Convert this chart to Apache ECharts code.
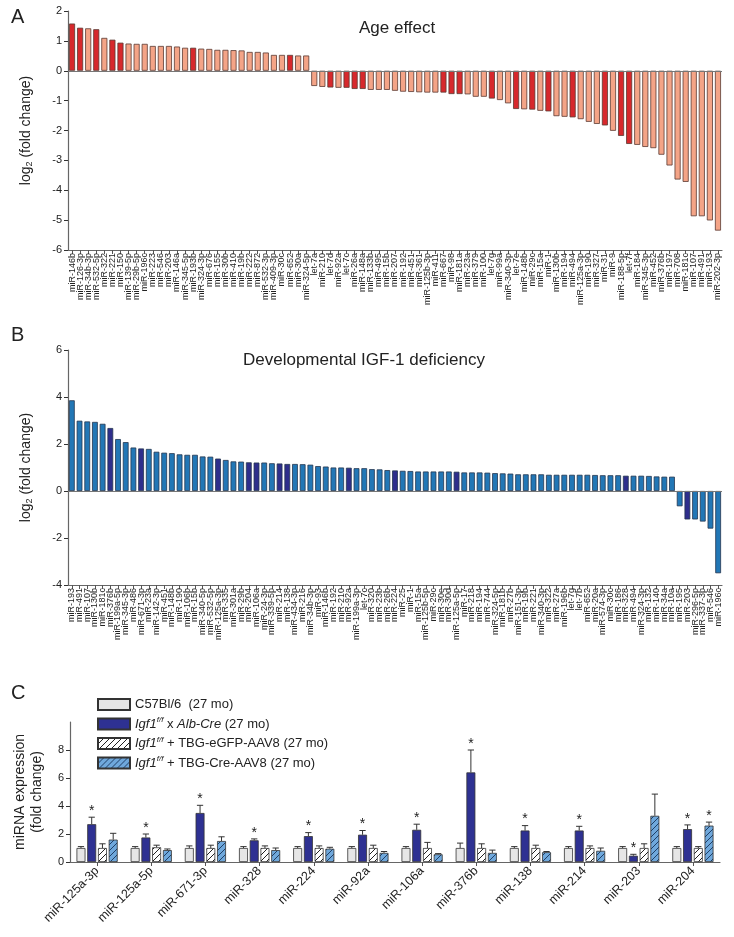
<!DOCTYPE html>
<html><head><meta charset="utf-8">
<script src="https://cdn.jsdelivr.net/npm/echarts@6/dist/echarts.min.js"></script>
<style>html,body{margin:0;padding:0;background:#fff}#c{width:734px;height:937px}</style>
</head><body><div id="c"></div>
<script>
// ---------- Panel A: Age effect ----------
const ageLabels = ['miR-146b','miR-126-3p','miR-34b-3p','miR-532-5p','miR-322','miR-221','miR-150','miR-139-5p','miR-29b-5p','miR-196c',
'miR-223','miR-546','miR-203','miR-146a','miR-345-5p','miR-193b','miR-324-3p','miR-676','miR-155','miR-30b',
'miR-410','miR-19b','miR-222','miR-872','miR-532-3p','miR-409-3p','miR-30c','miR-652','miR-30a','miR-324-5p',
'let-7a','miR-210','let-7d','miR-92a','let-7c','miR-26a','miR-148a','miR-133b','miR-495','miR-15b',
'miR-207','miR-192','miR-451','miR-361','miR-125b-3p','miR-411','miR-667','miR-98','miR-181a','miR-23a',
'miR-379','miR-100','let-7g','miR-99a','miR-340-3p','let-7e','miR-148b','miR-29c','miR-15a','miR-1',
'miR-130b','miR-194','miR-494','miR-125a-3p','miR-190','miR-327','miR-31','miR-9','miR-188-5p','let-7f',
'miR-184','miR-345-3p','miR-452','miR-376b','miR-197','miR-708','miR-181c','miR-107','miR-491','miR-193','miR-202-3p'];
const ageValues = [1.58,1.44,1.42,1.39,1.10,1.04,0.94,0.91,0.90,0.90,
0.83,0.83,0.83,0.81,0.77,0.77,0.74,0.73,0.70,0.70,
0.69,0.68,0.63,0.63,0.61,0.53,0.53,0.53,0.51,0.51,
-0.51,-0.54,-0.56,-0.57,-0.57,-0.61,-0.61,-0.64,-0.64,-0.64,
-0.67,-0.70,-0.71,-0.72,-0.73,-0.73,-0.73,-0.78,-0.78,-0.79,
-0.87,-0.87,-0.93,-0.98,-1.09,-1.28,-1.29,-1.30,-1.34,-1.36,
-1.52,-1.54,-1.56,-1.62,-1.71,-1.78,-1.83,-2.01,-2.18,-2.45,
-2.48,-2.55,-2.59,-2.81,-3.17,-3.64,-3.72,-4.87,-4.87,-5.01,-5.35];
const ageHighlight = ['miR-146b','miR-126-3p','miR-532-5p','miR-221','miR-150','miR-193b','miR-652','let-7d','let-7c','miR-26a',
'miR-148a','miR-667','miR-98','miR-181a','let-7g','let-7e','miR-29c','miR-1','miR-494','miR-31','miR-188-5p','let-7f'];
const ageTicks = [2,1,0,-1,-2,-3,-4,-5,-6];

// ---------- Panel B: Developmental IGF-1 deficiency ----------
const igfLabels = ['miR-193','miR-491','miR-107','miR-130b','miR-181c','miR-376b','miR-199a-5p','miR-345-3p','miR-486','miR-671-3p',
'miR-23a','miR-142-3p','miR-451','miR-148b','miR-190','miR-106b','miR-15b','miR-340-5p','miR-532-5p','miR-125a-3p',
'miR-335','miR-301a','miR-29b','miR-204','miR-106a','miR-24-3p','miR-339-5p','miR-214','miR-138','miR-434-3p',
'miR-216','miR-34b-3p','miR-93','miR-146b','miR-192','miR-210','miR-92a','miR-199a-3p','let-7c','miR-320',
'miR-23b','miR-26b','miR-224','miR-25','miR-1','miR-15a','miR-125b-5p','miR-29c','miR-30e','miR-30d',
'miR-125a-5p','miR-17','miR-218','miR-194','miR-744','miR-324-5p','miR-181b','miR-27b','miR-151-3p','miR-19b',
'miR-221','miR-340-3p','miR-322','miR-27a','miR-196b','let-7g','let-7b','miR-652','miR-20a','miR-574-3p',
'miR-30c','miR-186','miR-328','miR-494','miR-324-3p','miR-132','miR-140','miR-34a','miR-10a','miR-195',
'miR-203','miR-296-5p','miR-337-3p','miR-546','miR-196c'];
const igfValues = [3.86,2.99,2.96,2.94,2.86,2.68,2.21,2.08,1.85,1.81,
1.79,1.67,1.63,1.61,1.56,1.54,1.54,1.47,1.46,1.38,
1.32,1.26,1.25,1.22,1.21,1.21,1.18,1.17,1.15,1.15,
1.14,1.12,1.06,1.04,1.00,1.00,0.99,0.97,0.97,0.93,
0.92,0.89,0.875,0.86,0.85,0.83,0.83,0.83,0.83,0.83,
0.82,0.79,0.79,0.79,0.78,0.76,0.75,0.74,0.71,0.71,
0.71,0.71,0.69,0.69,0.69,0.69,0.69,0.69,0.68,0.67,
0.67,0.67,0.65,0.65,0.65,0.64,0.62,0.61,0.61,
-0.65,-1.21,-1.21,-1.30,-1.60,-3.50];
const igfHighlight = ['miR-376b','miR-671-3p','miR-125a-3p','miR-204','miR-106a','miR-214','miR-138','miR-92a','miR-224','miR-125a-5p','miR-328','miR-203'];
const igfTicks = [6,4,2,0,-2,-4];

// ---------- Panel C: validation ----------
const cCategories = ['miR-125a-3p','miR-125a-5p','miR-671-3p','miR-328','miR-224','miR-92a','miR-106a','miR-376b','miR-138','miR-214','miR-203','miR-204'];
const cSeriesNames = ['C57Bl/6  (27 mo)','Igf1 f/f x Alb-Cre (27 mo)','Igf1 f/f + TBG-eGFP-AAV8 (27 mo)','Igf1 f/f + TBG-Cre-AAV8 (27 mo)'];
const c57Mean   = [1.0,1.0,1.0,1.0,1.0,1.0,1.0,1.0,1.0,1.0,1.0,1.0];
const c57Err    = [0.10,0.10,0.15,0.10,0.10,0.10,0.10,0.35,0.10,0.10,0.10,0.10];
const albMean   = [2.70,1.75,3.50,1.55,1.85,1.95,2.30,6.40,2.25,2.25,0.45,2.35];
const albErr    = [0.50,0.25,0.55,0.10,0.25,0.30,0.40,1.60,0.35,0.30,0.10,0.30];
const gfpMean   = [1.0,1.05,1.0,1.0,1.0,1.0,1.0,1.0,1.0,1.0,1.0,1.0];
const gfpErr    = [0.30,0.15,0.20,0.15,0.15,0.20,0.40,0.30,0.20,0.15,0.30,0.10];
const creMean   = [1.60,0.85,1.50,0.85,0.95,0.65,0.55,0.65,0.70,0.80,3.30,2.60];
const creErr    = [0.45,0.08,0.30,0.15,0.10,0.10,0.05,0.20,0.05,0.20,1.55,0.25];
const albStars  = ['miR-125a-3p','miR-125a-5p','miR-671-3p','miR-328','miR-224','miR-92a','miR-106a','miR-376b','miR-138','miR-214','miR-203','miR-204'];
const creStars  = ['miR-204'];
const cTicks = [0,2,4,6,8];

// ---------- rendering ----------
const FONT = 'Liberation Sans, Arial, sans-serif';
function hatch(bg, fg){
  const c = document.createElement('canvas'); c.width = 6; c.height = 6;
  const x = c.getContext('2d');
  x.fillStyle = bg; x.fillRect(0,0,6,6);
  x.strokeStyle = fg; x.lineWidth = 1;
  x.beginPath();
  x.moveTo(0,6); x.lineTo(6,0);
  x.moveTo(-1,1); x.lineTo(1,-1);
  x.moveTo(5,7); x.lineTo(7,5);
  x.stroke();
  return {image: c, repeat: 'repeat'};
}
const axisLineStyle = {color:'#666', width:1.2};
const chart = echarts.init(document.getElementById('c'), null, {renderer:'canvas'});

const grids = [
  {left:68, top:11, width:654, height:239},
  {left:68, top:350, width:654, height:235},
  {left:70, top:722, width:650, height:140}
];
function yAx(gi, ticks, interval, nameText){
  return {
    type:'value', gridIndex:gi, min:Math.min(...ticks), max: Math.max(...ticks), interval:interval,
    axisLine:{show:true, lineStyle:axisLineStyle}, axisTick:{show:true, length:4, lineStyle:{color:'#333'}},
    splitLine:{show:false},
    axisLabel:{color:'#222', fontSize:11, fontFamily:FONT, margin:6},
    name:nameText, nameLocation:'middle', nameRotate:90, nameGap:34,
    nameTextStyle:{color:'#222', fontSize:14, fontFamily:FONT,
      rich:{a:{fontSize:14, fontFamily:FONT, color:'#222'}, b:{fontSize:9, fontFamily:FONT, color:'#222', verticalAlign:'bottom', padding:[6,0,0,0]}}}
  };
}
function xAxCat(gi, labels, fs){
  return {
    type:'category', gridIndex:gi, data:labels,
    axisLine:{show:true, onZero:false, lineStyle:axisLineStyle},
    axisTick:{show:true, alignWithLabel:true, length:4, lineStyle:{color:'#555'}},
    axisLabel:{interval:0, rotate:90, fontSize:fs, fontFamily:FONT, color:'#222', margin:3}
  };
}
const ageSet = new Set(ageHighlight), igfSet = new Set(igfHighlight);
const albStarSet = new Set(albStars), creStarSet = new Set(creStars);

const cStyles = [
  {color:'#e6e6e6'}, {color:'#2e3192'}, {color:hatch('#ffffff','#222222')}, {color:hatch('#6fa8dc','#1f3f66')}
];
const cMeans = [c57Mean, albMean, gfpMean, creMean];
const cErrs = [c57Err, albErr, gfpErr, creErr];
const CAT_GAP = 0.24, BAR_GAP = 0.2;

const errData = [];
cMeans.forEach((m, si) => m.forEach((v, ci) => {
  const cat = cCategories[ci];
  const star = (si === 1 && albStarSet.has(cat)) || (si === 3 && creStarSet.has(cat)) ? 1 : 0;
  errData.push([ci, si, v, cErrs[si][ci], star]);
}));

const legendRich = {
  n:{fontSize:13, fontFamily:FONT, color:'#222'},
  i:{fontSize:13, fontFamily:FONT, color:'#222', fontStyle:'italic'},
  s:{fontSize:8, fontFamily:FONT, color:'#222', fontStyle:'italic', verticalAlign:'top', padding:[0,0,8,0]}
};
function legendFmt(name){
  const i = cSeriesNames.indexOf(name);
  if (i === 0) return '{n|C57Bl/6  (27 mo)}';
  if (i === 1) return '{i|Igf1}{s|f/f}{n| x }{i|Alb-Cre}{n| (27 mo)}';
  if (i === 2) return '{i|Igf1}{s|f/f}{n| + TBG-eGFP-AAV8 (27 mo)}';
  return '{i|Igf1}{s|f/f}{n| + TBG-Cre-AAV8 (27 mo)}';
}

const series = [
  {type:'bar', xAxisIndex:0, yAxisIndex:0, data:ageValues, barCategoryGap:'25%',
   itemStyle:{borderColor:'#5a3a32', borderWidth:0.8,
     color:(p)=> ageSet.has(ageLabels[p.dataIndex]) ? '#d7282c' : '#f4a487'},
   markLine:{silent:true, symbol:'none', label:{show:false}, lineStyle:{color:'#777', width:1, type:'solid'}, data:[{yAxis:0}]}},
  {type:'bar', xAxisIndex:1, yAxisIndex:1, data:igfValues, barCategoryGap:'25%',
   itemStyle:{borderColor:'#24364f', borderWidth:0.8,
     color:(p)=> igfSet.has(igfLabels[p.dataIndex]) ? '#2e2e8c' : '#2277b6'},
   markLine:{silent:true, symbol:'none', label:{show:false}, lineStyle:{color:'#777', width:1, type:'solid'}, data:[{yAxis:0}]}}
];
cSeriesNames.forEach((nm, si) => {
  series.push({type:'bar', name:nm, xAxisIndex:2, yAxisIndex:2, data:cMeans[si],
    barGap:(BAR_GAP*100)+'%', barCategoryGap:(CAT_GAP*100)+'%',
    itemStyle:{color:cStyles[si].color, borderColor:'#333', borderWidth:0.8}});
});
series.push({type:'custom', xAxisIndex:2, yAxisIndex:2, data:errData, encode:{x:0, y:2}, z:5, silent:true,
  renderItem:(params, api) => {
    const ci = api.value(0), si = api.value(1), v = api.value(2), e = api.value(3), st = api.value(4);
    const band = api.size([1,0])[0];
    const used = band * (1 - CAT_GAP);
    const w = used / (4 + 3*BAR_GAP);
    const cx = api.coord([ci, 0])[0];
    const x = cx - used/2 + si*w*(1+BAR_GAP) + w/2;
    const yTop = api.coord([ci, v])[1];
    const yErr = api.coord([ci, v+e])[1];
    const ls = {stroke:'#333', lineWidth:1};
    const ch = [
      {type:'line', shape:{x1:x, y1:yTop, x2:x, y2:yErr}, style:ls},
      {type:'line', shape:{x1:x-w*0.35, y1:yErr, x2:x+w*0.35, y2:yErr}, style:ls}
    ];
    if (st) ch.push({type:'text', style:{text:'*', x:x, y:yErr-6, textAlign:'center', textVerticalAlign:'middle', fontSize:14, fontFamily:FONT, fill:'#222'}});
    return {type:'group', children:ch};
  }});

chart.setOption({
  animation:false,
  backgroundColor:'#fff',
  textStyle:{fontFamily:FONT},
  title:[
    {text:'A', left:6, top:2, textStyle:{fontSize:20, fontWeight:'normal', color:'#222', fontFamily:FONT}},
    {text:'Age effect', left:354, top:15, textStyle:{fontSize:17, fontWeight:'normal', color:'#222', fontFamily:FONT}},
    {text:'B', left:6, top:320, textStyle:{fontSize:20, fontWeight:'normal', color:'#222', fontFamily:FONT}},
    {text:'Developmental IGF-1 deficiency', left:238, top:347, textStyle:{fontSize:17, fontWeight:'normal', color:'#222', fontFamily:FONT}},
    {text:'C', left:6, top:678, textStyle:{fontSize:20, fontWeight:'normal', color:'#222', fontFamily:FONT}}
  ],
  legend:{data:cSeriesNames, orient:'vertical', left:92, top:693, itemWidth:32, itemHeight:11, itemGap:5, icon:'rect',
    formatter:legendFmt, textStyle:{rich:legendRich, fontSize:13, color:'#222'}, selectedMode:false},
  grid:grids,
  xAxis:[
    xAxCat(0, ageLabels, 9),
    xAxCat(1, igfLabels, 9),
    {type:'category', gridIndex:2, data:cCategories,
     axisLine:{show:true, lineStyle:axisLineStyle}, axisTick:{show:true, alignWithLabel:true, length:4, lineStyle:{color:'#555'}},
     axisLabel:{interval:0, rotate:45, fontSize:12.5, fontFamily:FONT, color:'#222', margin:7}}
  ],
  yAxis:[
    yAx(0, ageTicks, 1, '{a|log}{b|2}{a| (fold change)}'),
    yAx(1, igfTicks, 2, '{a|log}{b|2}{a| (fold change)}'),
    Object.assign(yAx(2, [0,10], 2, 'miRNA expression\n(fold change)'), {
      axisLabel:{color:'#222', fontSize:11, fontFamily:FONT, margin:6, showMaxLabel:false},
      nameGap:24, nameTextStyle:{color:'#222', fontSize:14, fontFamily:FONT, lineHeight:17}})
  ],
  series:series
});
</script></body></html>
